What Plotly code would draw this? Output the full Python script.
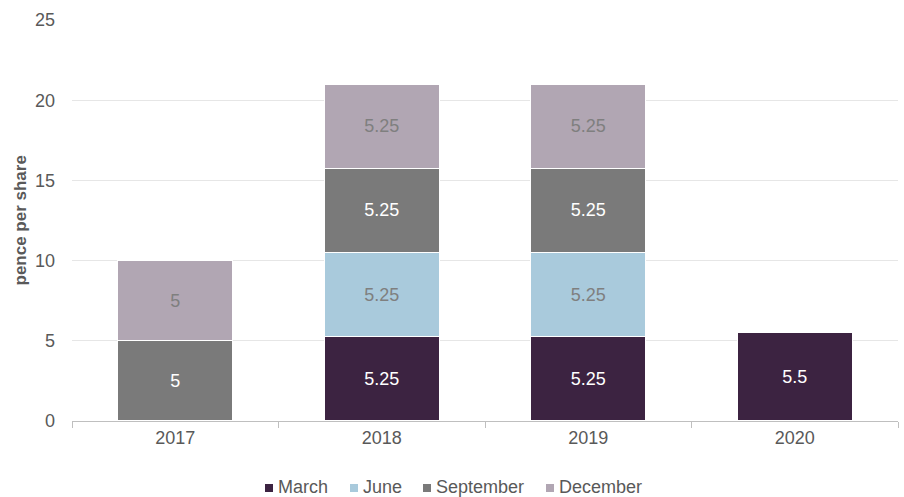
import plotly.graph_objects as go

years = ["2017", "2018", "2019", "2020"]
march = [None, 5.25, 5.25, 5.5]
june = [None, 5.25, 5.25, None]
september = [5, 5.25, 5.25, None]
december = [5, 5.25, 5.25, None]

series = [
    ("March", march, "#3c2341", "white"),
    ("June", june, "#a9cadc", "#7f7f7f"),
    ("September", september, "#7a7a7a", "white"),
    ("December", december, "#b1a6b3", "#7f7f7f"),
]

FONT = "Liberation Sans, Arial, sans-serif"
L, R, T, B, W, H = 72, 6, 20, 76, 904, 497
PW, PH = W - L - R, H - T - B

def px_x(p):
    return (p - L) / PW

def px_y(p):
    return (H - B - p) / PH

fig = go.Figure()
for name, vals, color, tcolor in series:
    fig.add_trace(go.Bar(
        name=name, x=years, y=vals, showlegend=False,
        text=[("" if v is None else f"{v:g}") for v in vals],
        textposition="inside", insidetextanchor="middle", textangle=0,
        textfont=dict(family=FONT, size=18, color=tcolor),
        marker=dict(color=color, line=dict(color="white", width=1.2)),
        hoverinfo="skip",
    ))

# custom legend (square swatch right next to the label, as in the reference)
legend_left = [265, 350, 423, 546]
shapes, annots = [], []
for (name, vals, color, tcolor), lx in zip(series, legend_left):
    shapes.append(dict(type="rect", xref="paper", yref="paper",
                       x0=px_x(lx), x1=px_x(lx + 8), y0=px_y(492), y1=px_y(484),
                       fillcolor=color, line=dict(width=0)))
    annots.append(dict(text=name, xref="paper", yref="paper",
                       x=px_x(lx + 11), y=px_y(487), xanchor="left", yanchor="middle",
                       showarrow=False,
                       font=dict(family=FONT, size=18, color="#595959")))

annots.append(dict(text="<b>pence per share</b>", xref="paper", yref="paper",
                   x=px_x(20), y=0.5, xanchor="center", yanchor="middle",
                   textangle=-90, showarrow=False,
                   font=dict(family=FONT, size=17, color="#595959")))

fig.update_layout(
    barmode="stack", bargap=0.443,
    width=W, height=H,
    margin=dict(l=L, r=R, t=T, b=B, autoexpand=False),
    paper_bgcolor="white", plot_bgcolor="white",
    font=dict(family=FONT, size=18, color="#595959"),
    showlegend=False,
    xaxis=dict(showgrid=False, showline=True, linecolor="#bfbfbf", linewidth=1,
               ticks="outside", tickson="boundaries", ticklen=6, tickcolor="#bfbfbf",
               tickfont=dict(family=FONT, size=18, color="#595959"), automargin=False),
    yaxis=dict(range=[0, 25], dtick=5, showgrid=True, gridcolor="#e6e6e6",
               zeroline=False, showline=False, automargin=False,
               ticklabelstandoff=16,
               tickfont=dict(family=FONT, size=18, color="#595959")),
    shapes=shapes,
    annotations=annots,
)

fig.write_html("out.html", config={"displayModeBar": False},
               post_script="document.body.style.margin='0';document.body.style.overflow='hidden';")
